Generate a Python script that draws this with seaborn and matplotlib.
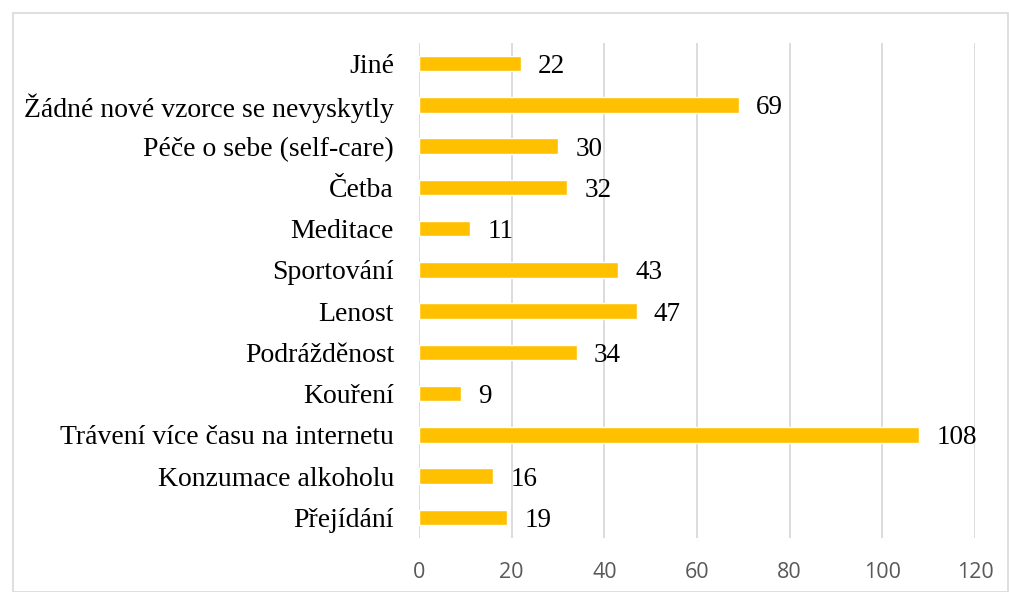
import matplotlib
matplotlib.use("Agg")
import matplotlib.pyplot as plt
import seaborn as sns
import pandas as pd
from matplotlib.patches import Rectangle

# categories top to bottom, as in the chart
categories = ["Jiné", "Žádné nové vzorce se nevyskytly", "Péče o sebe (self-care)",
              "Četba", "Meditace", "Sportování", "Lenost", "Podrážděnost",
              "Kouření", "Trávení více času na internetu", "Konzumace alkoholu",
              "Přejídání"]
counts = [22, 69, 30, 32, 11, 43, 47, 34, 9, 108, 16, 19]
xticks = [0, 20, 40, 60, 80, 100, 120]

df = pd.DataFrame({"kategorie": categories, "pocet": counts})

sns.set_theme(style="white")
plt.rcParams['font.family'] = ['Liberation Serif', 'DejaVu Serif']

fig = plt.figure(figsize=(10.09, 5.92), dpi=100)
ax = fig.add_axes([419 / 1009, 54 / 592, 556 / 1009, 495 / 592])

sns.barplot(data=df, x="pocet", y="kategorie", color="#FFC000", width=0.37,
            saturation=1, ax=ax, zorder=3)

# value labels next to bars
for i, v in enumerate(counts):
    ax.text(v + 3.7, i, str(v), va="center_baseline", ha="left", fontsize=19.5,
            color="black", family=['Liberation Serif'])

ax.set_xlim(0, 120)
ax.set_ylim(11.5, -0.5)
ax.set_xticks(xticks)
ax.set_xticklabels([str(t) for t in xticks], fontsize=15.5, color="#595959",
                   family=['Open Sans', 'DejaVu Sans'])
ax.tick_params(axis="x", length=0, pad=17.5)
ax.tick_params(axis="y", length=0, pad=18, labelsize=20, labelcolor="black")
ax.xaxis.grid(True, color="#D9D9D9", linewidth=1.3, zorder=0)
ax.set_xlabel("")
ax.set_ylabel("")
for s in ax.spines.values():
    s.set_visible(False)

# light frame round the chart area
fig.patches.append(Rectangle((13 / 1009, 0), 995 / 1009, 579 / 592,
                             transform=fig.transFigure, fill=False,
                             edgecolor="#D9D9D9", linewidth=1.2))

fig.savefig("out.png", dpi=100)
